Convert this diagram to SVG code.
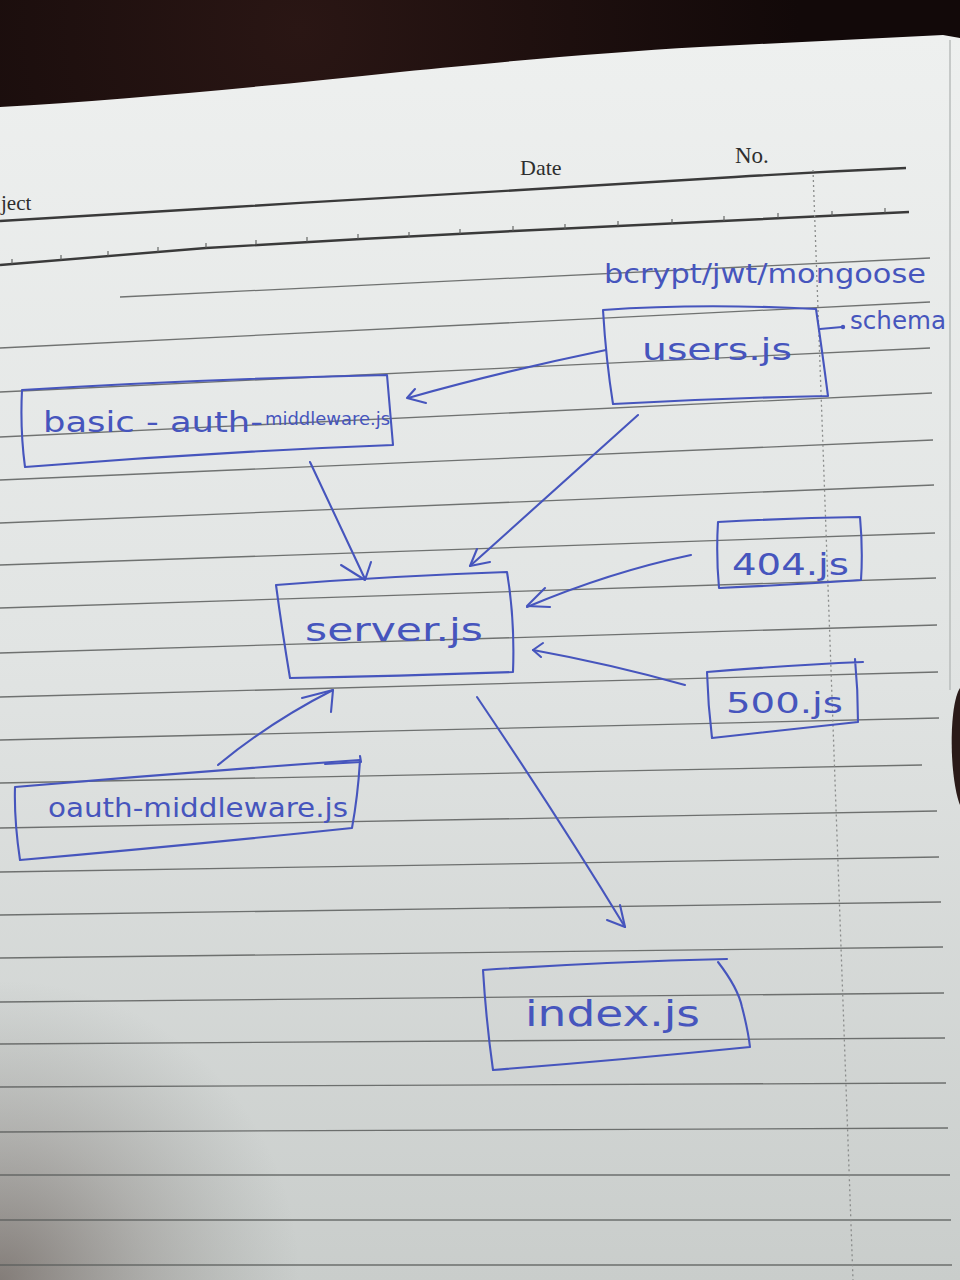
<svg xmlns="http://www.w3.org/2000/svg" width="960" height="1280" viewBox="0 0 960 1280">
<defs>
<style>
.rule{fill:none;stroke:#5a5d5c;stroke-width:1.3;opacity:0.85}
.head{fill:none;stroke:#3a3a3a;stroke-width:2.4}
.print{font-family:"Liberation Serif",serif;fill:#2e2e2e}
.ink{fill:none;stroke:#4655bd;stroke-width:2.1;stroke-linecap:round;stroke-linejoin:round}
.hand{font-family:"DejaVu Sans","Liberation Sans",sans-serif;fill:#4655bd}
</style>
<linearGradient id="paperGrad" x1="0" y1="0" x2="0" y2="1">
<stop offset="0" stop-color="#eef0ef"/>
<stop offset="0.5" stop-color="#e1e4e3"/>
<stop offset="1" stop-color="#c9cdcb"/>
</linearGradient>
<radialGradient id="shadeBL" cx="0" cy="1280" r="300" gradientUnits="userSpaceOnUse">
<stop offset="0" stop-color="#4a3b35" stop-opacity="0.55"/>
<stop offset="0.5" stop-color="#5a4f4a" stop-opacity="0.25"/>
<stop offset="1" stop-color="#6a6a66" stop-opacity="0"/>
</radialGradient>
<radialGradient id="bgGrad" cx="300" cy="30" r="500" gradientUnits="userSpaceOnUse">
<stop offset="0" stop-color="#2a1614"/>
<stop offset="1" stop-color="#120909"/>
</radialGradient>
</defs>

<rect x="0" y="0" width="960" height="1280" fill="url(#bgGrad)"/>
<path d="M0,107 C120,100 250,88 400,72 C520,60 612,52 700,47 L943,35 L960,38 L960,1280 L0,1280 Z" fill="url(#paperGrad)"/>
<rect x="0" y="980" width="960" height="300" fill="url(#shadeBL)"/>
<path d="M950,40 L950,690" stroke="#b9bcbb" stroke-width="1.5" fill="none"/>
<path d="M960,688 C952,700 950,740 953,770 C955,790 958,800 960,805 Z" fill="#2a1a18"/>

<g id="paper-lines">
<path class="head" d="M0,221 C80,216 160,211 233,207 C330,201 430,195 520,190 C600,185 670,181 735,177 C800,173 860,170 906,168"/>
<path class="head" d="M0,265 C70,259 140,253 206,248 C310,242 410,236 514,231 C650,224 780,217 909,212"/>
<path class="rule" stroke-width="1.2" d="M12,264 v-5 M61,260 v-5 M108,256 v-5 M158,252 v-5 M206,248 v-5 M256,245 v-5 M307,242 v-5 M358,239 v-5 M409,237 v-5 M460,234 v-5 M513,231 v-5 M565,229 v-5 M618,226 v-5 M672,224 v-5 M724,221 v-5 M778,218 v-5 M832,216 v-5 M885,213 v-5"/>
<path class="rule" d="M120,297 L930,258"/>
<path class="rule" d="M0,348 L930,302"/>
<path class="rule" d="M0,392 L930,348"/>
<path class="rule" d="M0,437 L932,393"/>
<path class="rule" d="M0,480 L933,440"/>
<path class="rule" d="M0,523 L934,485"/>
<path class="rule" d="M0,565 L935,533"/>
<path class="rule" d="M0,608 L936,578"/>
<path class="rule" d="M0,653 L937,625"/>
<path class="rule" d="M0,697 L938,672"/>
<path class="rule" d="M0,740 L939,718"/>
<path class="rule" d="M0,783 L922,765"/>
<path class="rule" d="M0,828 L937,811"/>
<path class="rule" d="M0,872 L939,857"/>
<path class="rule" d="M0,915 L941,902"/>
<path class="rule" d="M0,958 L943,947"/>
<path class="rule" d="M0,1002 L944,993"/>
<path class="rule" d="M0,1044 L945,1038"/>
<path class="rule" d="M0,1087 L946,1083"/>
<path class="rule" d="M0,1132 L948,1128"/>
<path class="rule" d="M0,1175 L950,1175"/>
<path class="rule" d="M0,1220 L951,1220"/>
<path class="rule" d="M0,1265 L952,1265"/>
<path d="M813,170 L853,1280" fill="none" stroke="#8a8c8b" stroke-width="1.3" stroke-dasharray="2 3"/>
</g>

<g id="header">
<text class="print" x="520" y="175" font-size="22">Date</text>
<text class="print" x="735" y="163" font-size="23">No.</text>
<text class="print" x="1" y="210" font-size="21">ject</text>
</g>

<g id="connectors">
<path class="ink" d="M606,350 Q500,372 408,398"/>
<path class="ink" d="M415,389 L407,398 L426,403"/>
<path class="ink" d="M310,462 L365,579"/>
<path class="ink" d="M341,565 L365,580 L371,562"/>
<path class="ink" d="M638,415 L470,566"/>
<path class="ink" d="M477,549 L470,566 L490,562"/>
<path class="ink" d="M691,555 Q610,572 527,607"/>
<path class="ink" d="M545,588 L527,606 L550,607"/>
<path class="ink" d="M685,685 Q610,664 533,650"/>
<path class="ink" d="M543,643 L533,650 L541,657"/>
<path class="ink" d="M218,765 Q270,722 333,690"/>
<path class="ink" d="M302,698 L333,690 L331,712"/>
<path class="ink" d="M477,697 Q560,820 625,927"/>
<path class="ink" d="M607,920 L625,927 L620,905"/>
<path class="ink" d="M820,329 L842,327"/>
<circle cx="843" cy="327" r="2.2" fill="#4655bd"/>
</g>

<g id="node-libs">
<text class="hand" x="604" y="283" font-size="26" textLength="322" lengthAdjust="spacingAndGlyphs">bcrypt/jwt/mongoose</text>
</g>

<g id="node-users">
<path class="ink" d="M603,310 Q700,303 816,309 Q822,350 828,396 Q720,398 613,404 Q606,360 603,310 Z"/>
<text class="hand" x="642" y="360" font-size="30" textLength="150" lengthAdjust="spacingAndGlyphs">users.js</text>
</g>

<g id="node-schema">
<text class="hand" x="850" y="329" font-size="24" textLength="96" lengthAdjust="spacingAndGlyphs">schema</text>
</g>

<g id="node-basic-auth">
<path class="ink" d="M22,390 Q200,379 387,375 Q390,410 393,445 Q210,452 25,467 Q20,430 22,390 Z"/>
<text class="hand" x="43" y="432" font-size="28" textLength="220" lengthAdjust="spacingAndGlyphs">basic - auth-</text>
<text class="hand" x="265" y="425" font-size="17" textLength="125" lengthAdjust="spacingAndGlyphs">middleware.js</text>
</g>

<g id="node-server">
<path class="ink" d="M276,585 Q390,576 507,572 Q515,620 513,672 Q400,676 290,678 Q282,630 276,585 Z"/>
<text class="hand" x="305" y="641" font-size="32" textLength="178" lengthAdjust="spacingAndGlyphs">server.js</text>
</g>

<g id="node-404">
<path class="ink" d="M718,522 Q790,518 860,517 Q863,550 861,580 Q790,585 719,588 Q716,555 718,522 Z"/>
<text class="hand" x="732" y="575" font-size="30" textLength="117" lengthAdjust="spacingAndGlyphs">404.js</text>
</g>

<g id="node-500">
<path class="ink" d="M707,672 Q790,665 863,662 M855,659 Q858,690 858,722 Q785,730 712,738 Q708,705 707,672"/>
<text class="hand" x="726" y="713" font-size="28" textLength="117" lengthAdjust="spacingAndGlyphs">500.js</text>
</g>

<g id="node-oauth">
<path class="ink" d="M15,787 Q190,772 360,760 Q358,795 352,828 Q190,845 20,860 Q14,820 15,787 Z"/>
<path class="ink" d="M325,764 L361,762 L360,756"/>
<text class="hand" x="48" y="817" font-size="26" textLength="300" lengthAdjust="spacingAndGlyphs">oauth-middleware.js</text>
</g>

<g id="node-index">
<path class="ink" d="M483,970 Q600,962 727,959 M718,962 Q738,988 742,1007 Q748,1030 750,1047 Q620,1060 493,1070 Q486,1020 483,970"/>
<text class="hand" x="525" y="1026" font-size="36" textLength="175" lengthAdjust="spacingAndGlyphs">index.js</text>
</g>
</svg>
